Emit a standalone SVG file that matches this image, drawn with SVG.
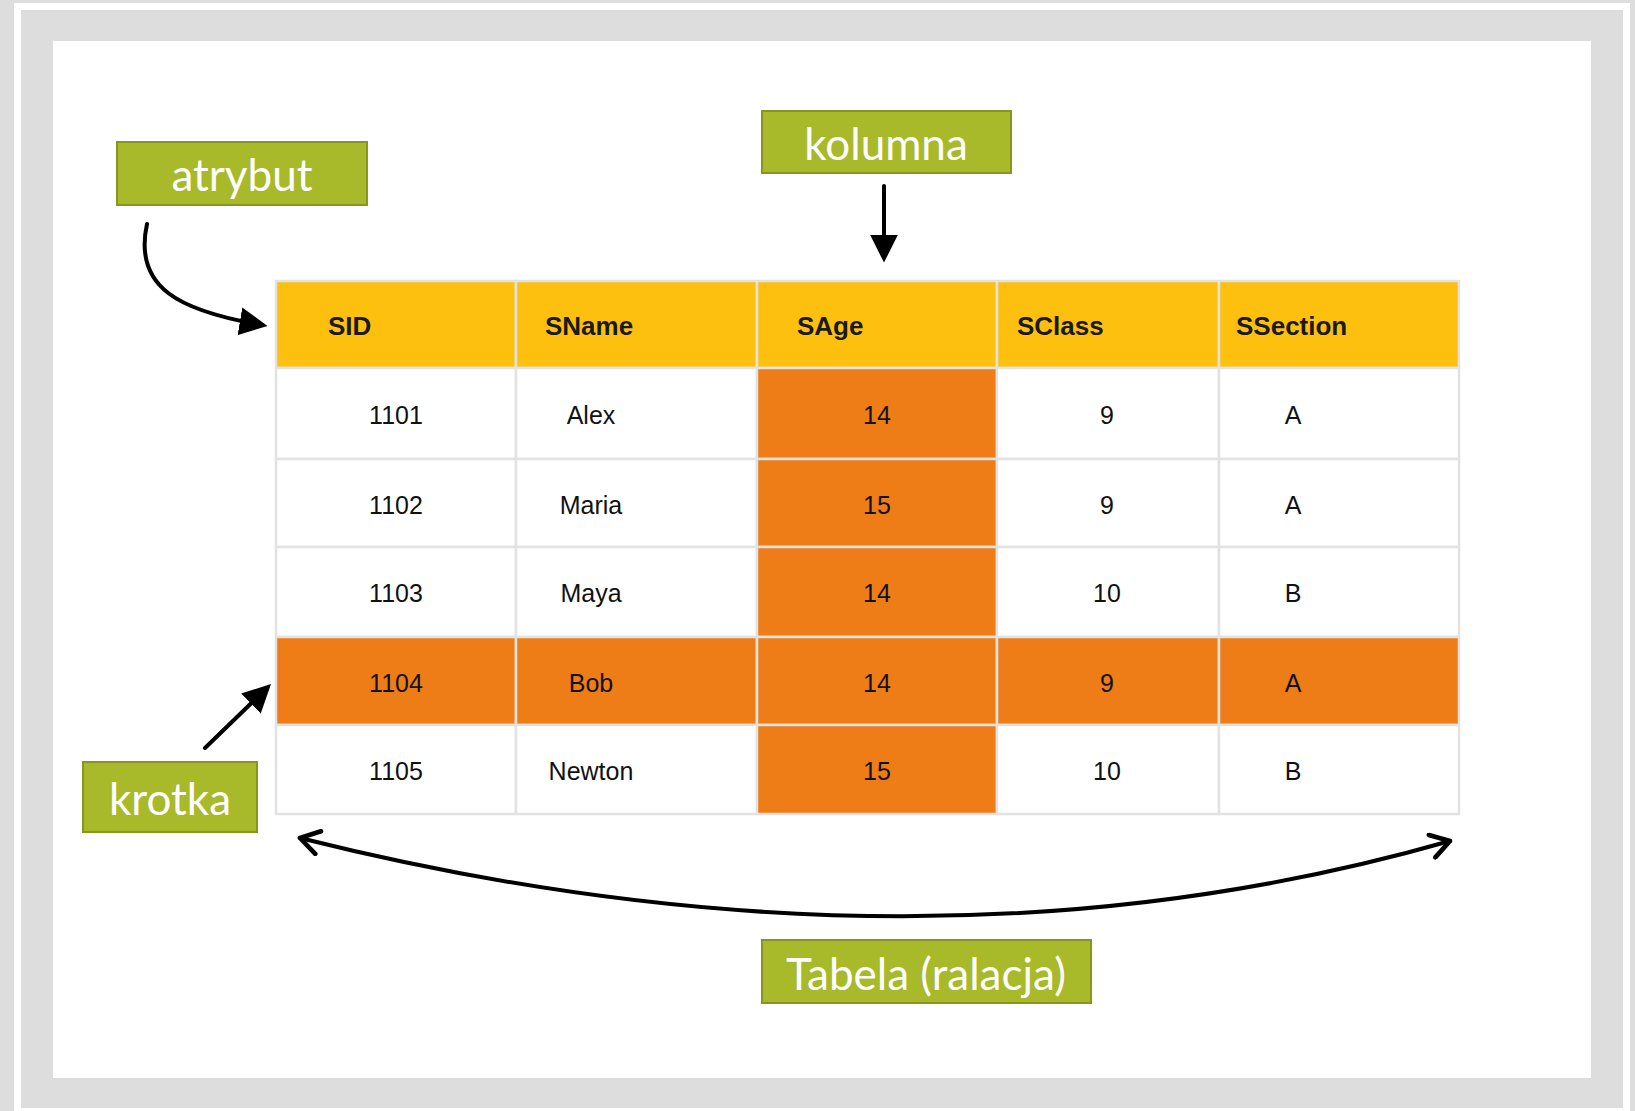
<svg xmlns="http://www.w3.org/2000/svg" width="1635" height="1111" viewBox="0 0 1635 1111">
<style>
.hd{fill:#FDC00F}
.wc{fill:#FFFFFF}
.oc{fill:#EE7D18}
.cell{stroke:#E2E2E2;stroke-width:2.5}
.ht{font-family:"Liberation Sans",Arial,sans-serif;font-weight:bold;font-size:26px;fill:#1A1A1A}
.dt{font-family:"Liberation Sans",Arial,sans-serif;font-size:25px;fill:#111111;text-anchor:middle}
.lb{fill:#A8B92A;stroke:#86961F;stroke-width:2}
.lt{font-family:Lato,"Open Sans",sans-serif;font-size:44px;fill:#FFFFFF;text-anchor:middle}
.ar{fill:none;stroke:#000000;stroke-width:4;stroke-linecap:round}
</style>
<defs>
<marker id="tri" viewBox="0 0 10 10" refX="8" refY="5" markerWidth="7" markerHeight="7" markerUnits="strokeWidth" orient="auto">
<path d="M0,0 L10,5 L0,10 Z" fill="#000"/>
</marker>
<marker id="chev" viewBox="0 0 12 12" refX="10" refY="6" markerWidth="7" markerHeight="7" markerUnits="strokeWidth" orient="auto-start-reverse">
<path d="M2,1 L10,6 L2,11" fill="none" stroke="#000" stroke-width="2" stroke-linecap="round" stroke-linejoin="round"/>
</marker>
</defs>
<rect x="0" y="0" width="1635" height="1111" fill="#DDDDDD"/>
<rect x="14" y="3" width="1616" height="1108" fill="#FFFFFF"/>
<rect x="21" y="10" width="1602" height="1098" fill="#DDDDDD"/>
<rect x="53" y="41" width="1538" height="1037" fill="#FFFFFF"/>

<g id="table">
<g class="cell">
<rect class="hd" x="276" y="281" width="240" height="87"/>
<rect class="hd" x="516" y="281" width="241" height="87"/>
<rect class="hd" x="757" y="281" width="240" height="87"/>
<rect class="hd" x="997" y="281" width="222" height="87"/>
<rect class="hd" x="1219" y="281" width="240" height="87"/>

<rect class="wc" x="276" y="368" width="240" height="91"/>
<rect class="wc" x="516" y="368" width="241" height="91"/>
<rect class="oc" x="757" y="368" width="240" height="91"/>
<rect class="wc" x="997" y="368" width="222" height="91"/>
<rect class="wc" x="1219" y="368" width="240" height="91"/>

<rect class="wc" x="276" y="459" width="240" height="88"/>
<rect class="wc" x="516" y="459" width="241" height="88"/>
<rect class="oc" x="757" y="459" width="240" height="88"/>
<rect class="wc" x="997" y="459" width="222" height="88"/>
<rect class="wc" x="1219" y="459" width="240" height="88"/>

<rect class="wc" x="276" y="547" width="240" height="90"/>
<rect class="wc" x="516" y="547" width="241" height="90"/>
<rect class="oc" x="757" y="547" width="240" height="90"/>
<rect class="wc" x="997" y="547" width="222" height="90"/>
<rect class="wc" x="1219" y="547" width="240" height="90"/>

<rect class="oc" x="276" y="637" width="240" height="88"/>
<rect class="oc" x="516" y="637" width="241" height="88"/>
<rect class="oc" x="757" y="637" width="240" height="88"/>
<rect class="oc" x="997" y="637" width="222" height="88"/>
<rect class="oc" x="1219" y="637" width="240" height="88"/>

<rect class="wc" x="276" y="725" width="240" height="89"/>
<rect class="wc" x="516" y="725" width="241" height="89"/>
<rect class="oc" x="757" y="725" width="240" height="89"/>
<rect class="wc" x="997" y="725" width="222" height="89"/>
<rect class="wc" x="1219" y="725" width="240" height="89"/>
</g>
<text class="ht" x="328" y="335">SID</text>
<text class="ht" x="545" y="335">SName</text>
<text class="ht" x="797" y="335">SAge</text>
<text class="ht" x="1017" y="335">SClass</text>
<text class="ht" x="1236" y="335">SSection</text>

<text class="dt" x="396" y="424">1101</text>
<text class="dt" x="591" y="424">Alex</text>
<text class="dt" x="877" y="424">14</text>
<text class="dt" x="1107" y="424">9</text>
<text class="dt" x="1293" y="424">A</text>

<text class="dt" x="396" y="514">1102</text>
<text class="dt" x="591" y="514">Maria</text>
<text class="dt" x="877" y="514">15</text>
<text class="dt" x="1107" y="514">9</text>
<text class="dt" x="1293" y="514">A</text>

<text class="dt" x="396" y="602">1103</text>
<text class="dt" x="591" y="602">Maya</text>
<text class="dt" x="877" y="602">14</text>
<text class="dt" x="1107" y="602">10</text>
<text class="dt" x="1293" y="602">B</text>

<text class="dt" x="396" y="692">1104</text>
<text class="dt" x="591" y="692">Bob</text>
<text class="dt" x="877" y="692">14</text>
<text class="dt" x="1107" y="692">9</text>
<text class="dt" x="1293" y="692">A</text>

<text class="dt" x="396" y="780">1105</text>
<text class="dt" x="591" y="780">Newton</text>
<text class="dt" x="877" y="780">15</text>
<text class="dt" x="1107" y="780">10</text>
<text class="dt" x="1293" y="780">B</text>
</g>

<g id="label-atrybut">
<rect class="lb" x="117" y="142" width="250" height="63"/>
<text class="lt" x="242" y="191">atrybut</text>
</g>
<g id="label-kolumna">
<rect class="lb" x="762" y="111" width="249" height="62"/>
<text class="lt" x="886" y="160">kolumna</text>
</g>
<g id="label-krotka">
<rect class="lb" x="83" y="762" width="174" height="70"/>
<text class="lt" x="170" y="815">krotka</text>
</g>
<g id="label-tabela">
<rect class="lb" x="762" y="940" width="329" height="63"/>
<text class="lt" x="926" y="990">Tabela (ralacja)</text>
</g>

<g id="connectors">
<path class="ar" d="M147,224 C133,288 180,311 262,325" marker-end="url(#tri)"/>
<path class="ar" d="M884,186 L884,257" marker-end="url(#tri)"/>
<path class="ar" d="M205,748 L267,688" marker-end="url(#tri)"/>
<path class="ar" d="M300,838 Q919,993 1450,841" marker-start="url(#chev)" marker-end="url(#chev)"/>
</g>
</svg>
